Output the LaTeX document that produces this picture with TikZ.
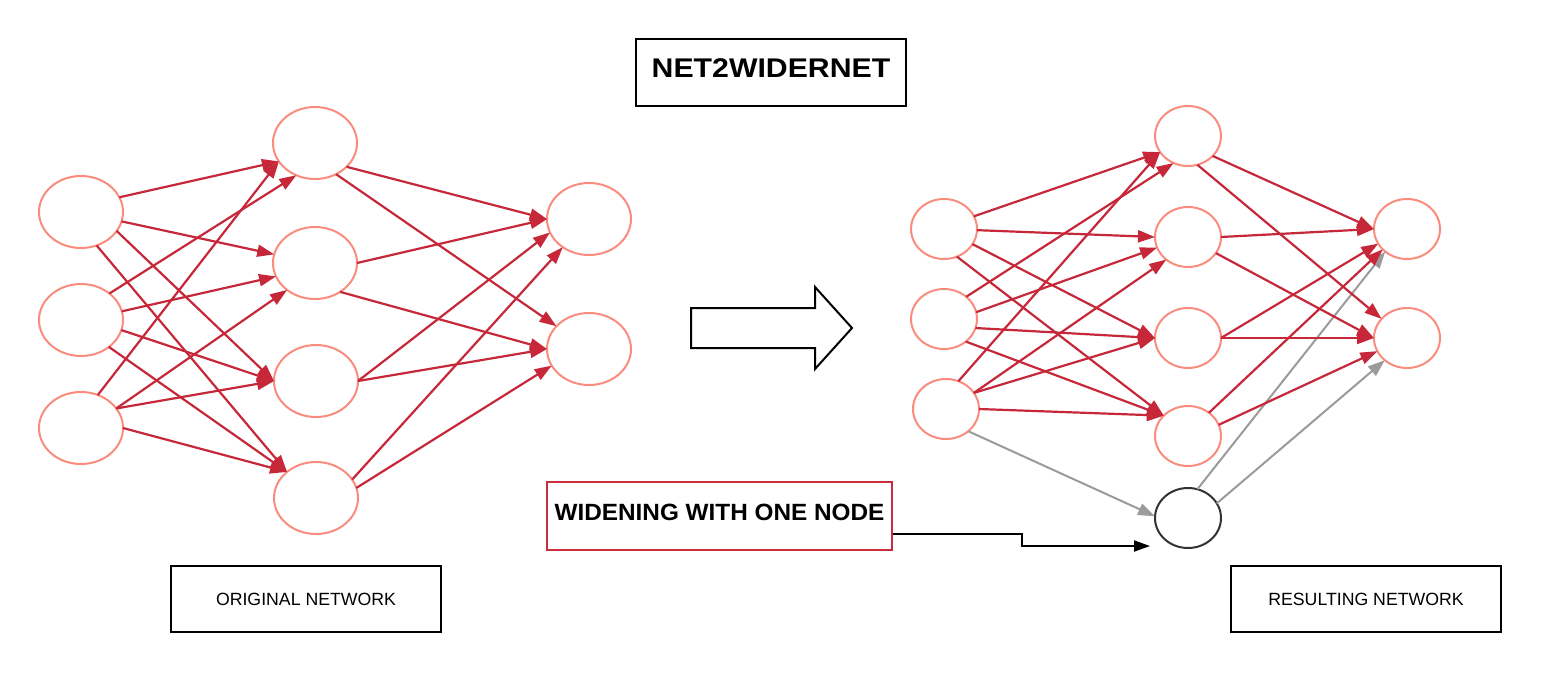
\documentclass[tikz,border=0pt]{standalone}
\usepackage{fontspec}
\setmainfont{Liberation Sans}
\usetikzlibrary{shapes.geometric,arrows.meta}
\definecolor{nodecol}{RGB}{250,140,125}
\definecolor{edgecol}{RGB}{198,40,58}
\definecolor{graycol}{RGB}{155,155,155}
\definecolor{boxred}{RGB}{200,45,60}
\definecolor{newcol}{RGB}{50,50,50}
\begin{document}
\begin{tikzpicture}[x=1pt,y=-1pt,
  bigN/.style={ellipse,draw=nodecol,line width=2pt,minimum width=84pt,minimum height=72pt,inner sep=0pt,outer sep=0pt},
  smallN/.style={ellipse,draw=nodecol,line width=2pt,minimum width=66pt,minimum height=60pt,inner sep=0pt,outer sep=0pt},
  redarr/.style={draw=edgecol,line width=2.2pt,-{Triangle[length=17pt,width=12pt]}},
  grayarr/.style={draw=graycol,line width=2pt,-{Triangle[length=17pt,width=12pt]}},
  blackarr/.style={draw=black,line width=2pt,-{Triangle[length=16pt,width=11pt]}},
  labbox/.style={draw=black,line width=2pt,minimum width=270pt,minimum height=66pt,inner sep=0pt,font=\fontsize{17.7}{20}\selectfont}
]
\useasboundingbox (0,0) rectangle (1541,672);
\fill[white] (0,0) rectangle (1541,672);

% left network
\node[bigN] (i1) at (81,212) {};
\node[bigN] (i2) at (81,320) {};
\node[bigN] (i3) at (81,428) {};
\node[bigN] (h1) at (315,143) {};
\node[bigN] (h2) at (315,263) {};
\node[bigN] (h3) at (316,381) {};
\node[bigN] (h4) at (316,498) {};
\node[bigN] (o1) at (589,219) {};
\node[bigN] (o2) at (589,349) {};

\draw[redarr] (i1.21) -- (h1.207);
\draw[redarr] (i1.-13) -- (h2.168);
\draw[redarr] (i1.-28) -- (h3.180);
\draw[redarr] (i1.-65) -- (h4.138);
\draw[redarr] (i2.43) -- (h1.240);
\draw[redarr] (i2.12) -- (h2.199);
\draw[redarr] (i2.-14) -- (h3.180);
\draw[redarr] (i2.-44) -- (h4.138);
\draw[redarr] (i3.63) -- (h1.207);
\draw[redarr] (i3.29) -- (h2.224);
\draw[redarr] (i3.29) -- (h3.180);
\draw[redarr] (i3.0) -- (h4.138);

\draw[redarr] (h1.-37) -- (o1.180);
\draw[redarr] (h1.-56) -- (o2.145);
\draw[redarr] (h2.0) -- (o1.180);
\draw[redarr] (h2.-49) -- (o2.180);
\draw[redarr] (h3.0) -- (o1.199);
\draw[redarr] (h3.0) -- (o2.180);
\draw[redarr] (h4.27) -- (o1.227);
\draw[redarr] (h4.14) -- (o2.204);

% right network
\node[smallN] (ri1) at (944,229) {};
\node[smallN] (ri2) at (944,319) {};
\node[smallN] (ri3) at (946,409) {};
\node[smallN] (rh1) at (1188,136) {};
\node[smallN] (rh2) at (1188,237) {};
\node[smallN] (rh3) at (1188,338) {};
\node[smallN] (rh4) at (1188,436) {};
\node[smallN,draw=newcol] (rn) at (1188,518) {};
\node[smallN] (ro1) at (1407,229) {};
\node[smallN] (ro2) at (1407,338) {};

\draw[grayarr] (ri3.-45) -- (rn.177);
\draw[grayarr] (rn.72) -- (ro1.226);
\draw[grayarr] (rn.27) -- (ro2.225);

\draw[redarr] (ri1.23) -- (rh1.210);
\draw[redarr] (ri1.-2) -- (rh2.180);
\draw[redarr] (ri1.-28) -- (rh3.180);
\draw[redarr] (ri1.-65) -- (rh4.140);
\draw[redarr] (ri2.45) -- (rh1.242);
\draw[redarr] (ri2.12) -- (rh2.199);
\draw[redarr] (ri2.-16) -- (rh3.180);
\draw[redarr] (ri2.-46) -- (rh4.140);
\draw[redarr] (ri3.66) -- (rh1.210);
\draw[redarr] (ri3.30) -- (rh2.226);
\draw[redarr] (ri3.30) -- (rh3.180);
\draw[redarr] (ri3.0) -- (rh4.140);

\draw[redarr] (rh1.-39) -- (ro1.180);
\draw[redarr] (rh1.-72) -- (ro2.143);
\draw[redarr] (rh2.0) -- (ro1.180);
\draw[redarr] (rh2.-30) -- (ro2.180);
\draw[redarr] (rh3.0) -- (ro1.207);
\draw[redarr] (rh3.0) -- (ro2.180);
\draw[redarr] (rh4.48) -- (ro1.220);
\draw[redarr] (rh4.20) -- (ro2.204);

% big block arrow
\draw[line width=2pt,line join=miter] (691,308) -- (815,308) -- (815,287) -- (852,328) -- (815,369) -- (815,348) -- (691,348) -- cycle;

% title and labels
\node[draw=black,line width=2pt,minimum width=270pt,minimum height=67pt,inner sep=0pt,text depth=9pt,font=\fontsize{27}{30}\selectfont\bfseries] (title) at (771,72.5) {\scalebox{1.12}[1]{NET2WIDERNET}};
\node[draw=boxred,line width=2pt,minimum width=345pt,minimum height=68pt,inner sep=0pt,text depth=7pt,font=\fontsize{23.5}{26}\selectfont\bfseries] (wbox) at (719.5,516) {\scalebox{1.035}[1]{WIDENING WITH ONE NODE}};
\node[labbox] (orig) at (306,599) {ORIGINAL NETWORK};
\node[labbox] (res) at (1366,599) {RESULTING NETWORK};

\coordinate (wend) at (1150,546);
\draw[blackarr] ([yshift=-18pt]wbox.east) -- ++(129,0) |- (wend);
\end{tikzpicture}
\end{document}
